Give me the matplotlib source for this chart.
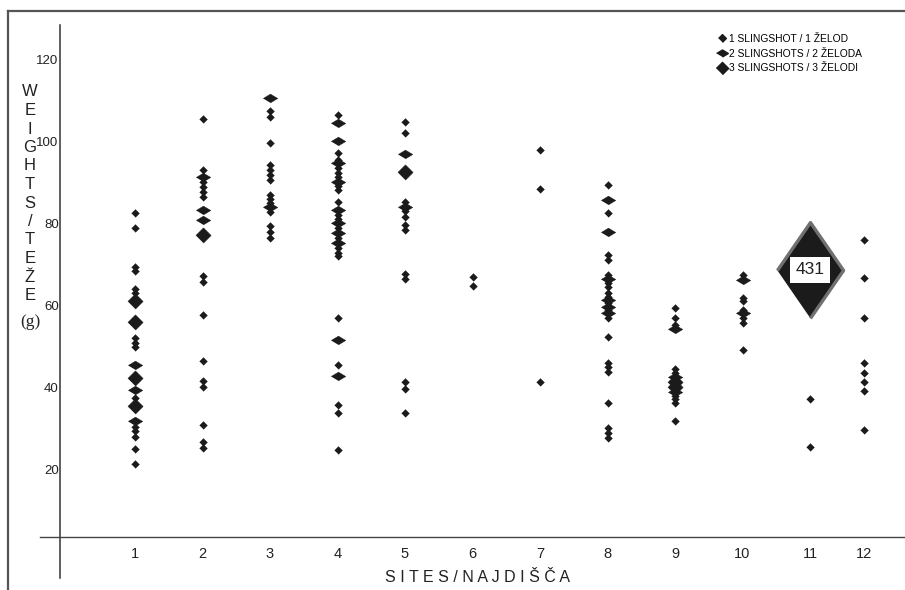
import matplotlib
matplotlib.use("Agg")
import matplotlib.pyplot as plt
from matplotlib.lines import Line2D
import numpy as np

# weights (g) of the slingshot finds per site, with how many pieces each mark stands for
s1_w = [82.5, 79, 69.5, 68.5, 64, 63, 61, 56, 52, 51, 50, 45.5, 42.5, 39.5, 37.5, 35.5, 32, 30.5, 29.5, 28, 25, 21.5]
s1_n = [1, 1, 1, 1, 1, 1, 3, 3, 1, 1, 1, 2, 3, 2, 1, 3, 2, 1, 1, 1, 1, 1]
s2_w = [105.5, 93, 91.2, 90.1, 88.9, 87.7, 86.5, 83.3, 80.8, 77.2, 67.3, 65.8, 57.7, 46.4, 41.7, 40.3, 31, 26.9, 25.3]
s2_n = [1, 1, 2, 1, 1, 1, 1, 2, 2, 3, 1, 1, 1, 1, 1, 1, 1, 1, 1]
s3_w = [110.4, 107.4, 105.8, 99.6, 94.2, 93, 91.8, 90.6, 86.9, 85.9, 84.9, 83.9, 82.8, 79.4, 78, 76.4]
s3_n = [2, 1, 1, 1, 1, 1, 1, 1, 1, 1, 1, 2, 1, 1, 1, 1]
s4_w = [106.4, 104.5, 100.1, 97.2, 95.4, 94.6, 93.4, 92.3, 91.2, 90.1, 89.1, 88.1,
        85.3, 83.3, 82, 81, 80, 78.8, 77.6, 76.4, 75.2, 73.9, 72.9, 72.1,
        56.9, 51.6, 45.5, 42.9, 35.8, 33.9, 24.9]
s4_n = [1, 2, 2, 1, 1, 2, 1, 1, 1, 2, 1, 1,
        1, 2, 1, 1, 2, 1, 2, 1, 2, 1, 1, 1,
        1, 2, 1, 2, 1, 1, 1]
s5_w = [104.7, 102.1, 96.8, 92.6, 85.3, 84.1, 82.9, 81.6, 79.6, 78.4, 67.7, 66.5, 41.5, 39.7, 33.9]
s5_n = [1, 1, 2, 3, 1, 2, 1, 1, 1, 1, 1, 1, 1, 1, 1]
s6_w = [67, 64.7]
s6_n = [1, 1]
s7_w = [97.9, 88.4, 41.3]
s7_n = [1, 1, 1]
s8_w = [89.3, 85.7, 82.5, 77.8, 72.3, 71.1, 67.4, 66.5, 65.4, 64.6,
        63, 62.2, 61.4, 60.6, 59.7, 58.9, 58.1, 57.1, 52.4, 46, 45, 43.8, 36.3, 30.2, 29, 27.8]
s8_n = [1, 2, 1, 2, 1, 1, 1, 2, 1, 1,
        1, 1, 2, 1, 2, 1, 2, 1, 1, 1, 1, 1, 1, 1, 1, 1]
s9_w = [59.5, 56.9, 55.3, 54.2, 44.6, 43.7, 42.6, 41.4, 40.2, 39, 38, 37.2, 36.4, 32]
s9_n = [1, 1, 1, 2, 1, 1, 2, 3, 3, 2, 1, 1, 1, 1]
s10_w = [67.4, 66.2, 61.8, 61, 58.9, 58.1, 56.9, 55.7, 49.2]
s10_n = [1, 2, 1, 1, 1, 2, 1, 1, 1]
s11_w = [37.2, 25.7]
s11_n = [1, 1]
s12_w = [76, 66.6, 57.1, 46.1, 43.7, 41.5, 39.3, 29.7]
s12_n = [1, 1, 1, 1, 1, 1, 1, 1]

# the group of 431 pieces at site 11
hoard_site = 11
hoard_w = 68.7
hoard_n = 431

site_labels = ["1", "2", "3", "4", "5", "6", "7", "8", "9", "10", "11", "12"]
y_ticks = [20, 40, 60, 80, 100, 120]
legend_labels = ["1 SLINGSHOT / 1 ŽELOD", "2 SLINGSHOTS / 2 ŽELODA", "3 SLINGSHOTS / 3 ŽELODI"]

weights = [s1_w, s2_w, s3_w, s4_w, s5_w, s6_w, s7_w, s8_w, s9_w, s10_w, s11_w, s12_w]
counts = [s1_n, s2_n, s3_n, s4_n, s5_n, s6_n, s7_n, s8_n, s9_n, s10_n, s11_n, s12_n]

# hand drawn axis: site 12 sits a bit closer to 11
site_x = np.arange(1, 13, dtype=float)
site_x[-1] = 11.8

ink = "#1b1b1b"
shapes = {
    1: [(-1, 0), (0, 1), (1, 0), (0, -1)],
    2: [(-1, 0), (0, 0.6), (1, 0), (0, -0.6)],
    3: [(-1, 0), (0, 1), (1, 0), (0, -1)],
}
sizes = {1: 5.6, 2: 10.5, 3: 11}

fig = plt.figure(figsize=(9.05, 5.9), dpi=100)
ax = fig.add_axes([0, 0, 1, 1])
ax.set_xlim(-1, 12.407)
ax.set_ylim(-9.2, 134.36)
ax.patch.set_alpha(0)

for n in (1, 2, 3):
    xs, ys = [], []
    for i in range(12):
        for w, c in zip(weights[i], counts[i]):
            if c == n:
                xs.append(site_x[i])
                ys.append(w)
    ax.plot(xs, ys, ls="none", marker=shapes[n], ms=sizes[n], color=ink, mec=ink, mew=0.3)

# big diamond for the hoard
ax.plot([hoard_site], [hoard_w], ls="none",
        marker=[(-0.69, 0), (0, 1), (0.69, 0), (0, -1)], ms=69,
        mfc=ink, mec="#707070", mew=2.4)
ax.text(hoard_site, hoard_w, str(hoard_n), ha="center", va="center",
        fontsize=12.5, family="Liberation Sans", color="#222222",
        bbox=dict(boxstyle="square,pad=0.3", fc="white", ec="none"))

# axes like the drawn original
for side in ("top", "right"):
    ax.spines[side].set_visible(False)
ax.spines["left"].set_position(("data", -0.11))
ax.spines["left"].set_bounds(-6.3, 128.3)
ax.spines["left"].set_color("#333333")
ax.spines["left"].set_linewidth(1.1)
ax.spines["bottom"].set_position(("data", 3.7))
ax.spines["bottom"].set_bounds(-0.41, 12.41)
ax.spines["bottom"].set_color("#444444")
ax.spines["bottom"].set_linewidth(1.0)

ax.set_yticks(y_ticks)
ax.set_yticklabels([str(t) for t in y_ticks], family="Liberation Sans", fontsize=9.5, color="#222222")
ax.set_xticks(site_x)
ax.set_xticklabels(site_labels, family=["Liberation Sans Narrow", "Liberation Sans"], fontsize=10.5, color="#222222")
ax.tick_params(axis="y", length=0, pad=1)
ax.tick_params(axis="x", length=0, pad=7)

# x title
fig.text(477 / 905, 1 - 577 / 590, "S I T E S / N A J D I Š Č A", ha="center", va="center",
         family=["Liberation Sans Narrow", "Liberation Sans"], fontsize=11.5, color="#222222")

# y title written letter under letter
ylab = "WEIGHTS/TEŽE"
for i, ch in enumerate(ylab):
    fig.text(30 / 905, 1 - (92 + i * 18.5) / 590, ch, ha="center", va="center",
             family="Liberation Sans", fontsize=12, color="#222222")
fig.text(30 / 905, 1 - 322 / 590, "(g)", ha="center", va="center",
         family="Liberation Serif", fontsize=12.5, color="#222222")

# legend
handles = [Line2D([], [], ls="none", marker=shapes[n], ms=sizes[n] * (0.8 if n > 1 else 1),
                  color=ink) for n in (1, 2, 3)]
fig.legend(handles, legend_labels, loc="upper left", bbox_to_anchor=(717 / 905, 1 - 34 / 590),
           frameon=False, prop={"family": "Liberation Sans", "size": 7.4},
           handlelength=1.0, handletextpad=0.2, labelspacing=0.45,
           borderpad=0, borderaxespad=0)

# page frame (top and left edges)
fig.add_artist(Line2D([8 / 905, 1], [1 - 11 / 590, 1 - 11 / 590], transform=fig.transFigure,
                      color="#555555", lw=1.6))
fig.add_artist(Line2D([8 / 905, 8 / 905], [1 - 11 / 590, 0], transform=fig.transFigure,
                      color="#555555", lw=1.6))

fig.savefig("out.png", dpi=100, facecolor="white")
